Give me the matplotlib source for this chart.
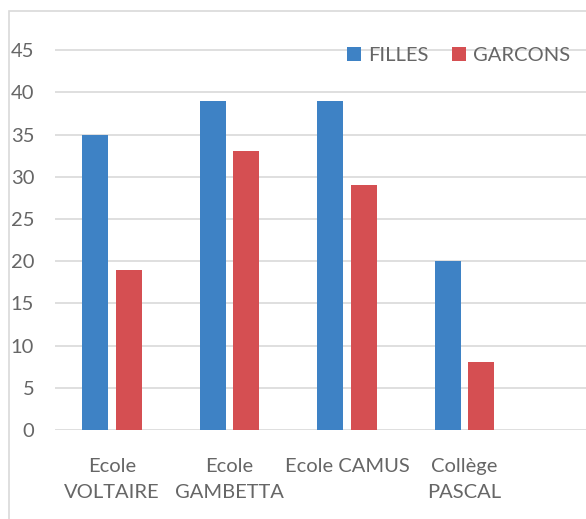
import numpy as np
import matplotlib.pyplot as plt
from matplotlib.patches import Rectangle

ecoles = ["Ecole\nVOLTAIRE", "Ecole\nGAMBETTA", "Ecole CAMUS", "Collège\nPASCAL"]
filles = [35, 39, 39, 20]
garcons = [19, 33, 29, 8]

plt.rcParams['font.family'] = ['Lato', 'DejaVu Sans']
W, H = 586, 519
fig = plt.figure(figsize=(W / 100, H / 100), dpi=100)

# cadre gris (coupe a droite et en bas)
fig.patches.append(Rectangle((9 / W, -0.1), 1.2, 1 - 11 / H + 0.1, transform=fig.transFigure,
                             fill=False, edgecolor="#D9D9D9", linewidth=1.2))

ax = fig.add_axes([55 / W, 1 - 430 / H, (W - 55) / W, (430 - 8) / H])
x = np.arange(len(ecoles))
ax.bar(x - 0.142, filles, 0.222, color="#3E82C5", label="FILLES", zorder=3)
ax.bar(x + 0.142, garcons, 0.222, color="#D54F52", label="GARCONS", zorder=3)

ax.set_ylim(0, 50)
ax.set_xlim(-0.485, 4.034)
ax.set_yticks(range(0, 50, 5))
ax.grid(axis="y", color="#D9D9D9", linewidth=1.2, zorder=0)
for s in ax.spines.values():
    s.set_visible(False)
ax.tick_params(length=0, labelsize=14.5, colors="#666666", pad=20)
ax.tick_params(axis="y", pad=15)
ax.set_xticks(x)
ax.set_xticklabels(ecoles, linespacing=1.65, va="top")
for lab in ax.get_yticklabels():
    lab.set_horizontalalignment("right")

ax.legend(loc="upper right", bbox_to_anchor=(1.005, 0.95), ncol=2, frameon=False, fontsize=14.5,
          labelcolor="#666666", handlelength=0.7, handleheight=0.7, handletextpad=0.35,
          columnspacing=1.2)

fig.savefig("out.png", dpi=100)
